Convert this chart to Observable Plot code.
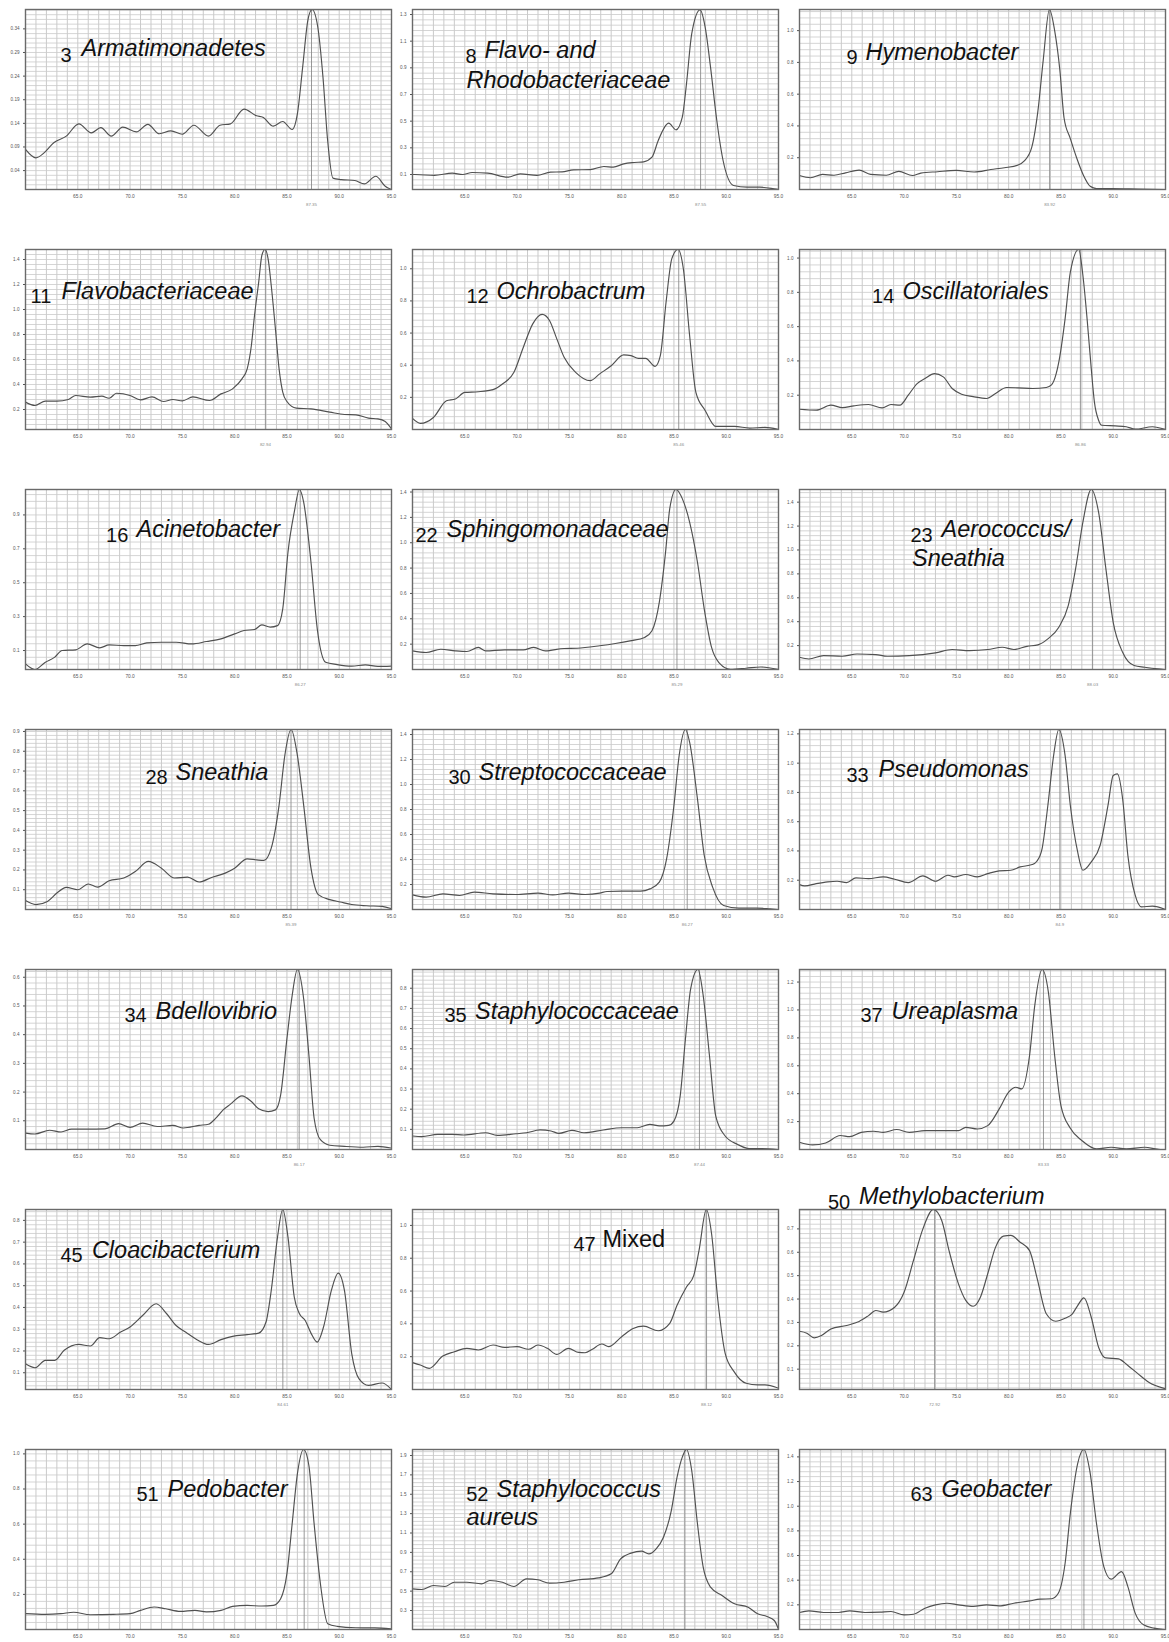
<!DOCTYPE html>
<html><head><meta charset="utf-8">
<script src="https://cdn.jsdelivr.net/npm/d3@7"></script>
<script src="https://cdn.jsdelivr.net/npm/@observablehq/plot@0.6"></script>
<style>
body{margin:0;background:#fff;}
#wrap{position:relative;width:1169px;height:1642px;overflow:hidden;background:#fff;font-family:"Liberation Sans",Arial,Helvetica,sans-serif;}
.cell{position:absolute;}
.cell svg{max-width:none;overflow:visible;}
</style></head><body><div id="wrap"></div>
<script>
// ---------- DATA ----------
const panelIds = [3, 8, 9, 11, 12, 14, 16, 22, 23, 28, 30, 33, 34, 35, 37, 45, 47, 50, 51, 52, 63];
const taxa = [
  ["Armatimonadetes"], ["Flavo- and", "Rhodobacteriaceae"], ["Hymenobacter"],
  ["Flavobacteriaceae"], ["Ochrobactrum"], ["Oscillatoriales"],
  ["Acinetobacter"], ["Sphingomonadaceae"], ["Aerococcus/", "Sneathia"],
  ["Sneathia"], ["Streptococcaceae"], ["Pseudomonas"],
  ["Bdellovibrio"], ["Staphylococcaceae"], ["Ureaplasma"],
  ["Cloacibacterium"], ["Mixed"], ["Methylobacterium"],
  ["Pedobacter"], ["Staphylococcus", "aureus"], ["Geobacter"]
];
const italicName = [1,1,1,1,1,1,1,1,1,1,1,1,1,1,1,1,0,1,1,1,1];
const peakTemps = [87.35, 87.55, 83.92, 82.94, 85.46, 86.86, 86.27, 85.29, 88.03, 85.39, 86.27, 84.9, 86.17, 87.44, 83.33, 84.61, 88.12, 72.92, 86.65, 86.05, 87.2];
const peakLabels = ["87.35", "87.55", "83.92", "82.94", "85.46", "86.86", "86.27", "85.29", "88.03", "85.39", "86.27", "84.9", "86.17", "87.44", "83.33", "84.61", "88.12", "72.92", null, null, null];
const xTicks = [65, 70, 75, 80, 85, 90, 95];
const yTicks = [
  [0.04,0.09,0.14,0.19,0.24,0.29,0.34],
  [0.1,0.3,0.5,0.7,0.9,1.1,1.3],
  [0.2,0.4,0.6,0.8,1.0],
  [0.2,0.4,0.6,0.8,1.0,1.2,1.4],
  [0.2,0.4,0.6,0.8,1.0],
  [0.2,0.4,0.6,0.8,1.0],
  [0.1,0.3,0.5,0.7,0.9],
  [0.2,0.4,0.6,0.8,1.0,1.2,1.4],
  [0.2,0.4,0.6,0.8,1.0,1.2,1.4],
  [0.1,0.2,0.3,0.4,0.5,0.6,0.7,0.8,0.9],
  [0.2,0.4,0.6,0.8,1.0,1.2,1.4],
  [0.2,0.4,0.6,0.8,1.0,1.2],
  [0.1,0.2,0.3,0.4,0.5,0.6],
  [0.1,0.2,0.3,0.4,0.5,0.6,0.7,0.8],
  [0.2,0.4,0.6,0.8,1.0,1.2],
  [0.1,0.2,0.3,0.4,0.5,0.6,0.7,0.8],
  [0.2,0.4,0.6,0.8,1.0],
  [0.1,0.2,0.3,0.4,0.5,0.6,0.7],
  [0.2,0.4,0.6,0.8,1.0],
  [0.3,0.5,0.7,0.9,1.1,1.3,1.5,1.7,1.9],
  [0.2,0.4,0.6,0.8,1.0,1.2,1.4]
];
const yDomains = [
  [0, 0.381], [-0.0125, 1.3375], [0, 1.133], [0.04, 1.48], [0, 1.12], [0, 1.05], [-0.012, 1.05],
  [0, 1.42], [0, 1.506], [0, 0.91], [0, 1.44], [0, 1.23], [0, 0.627], [0, 0.893], [0, 1.29],
  [0.023, 0.85], [0, 1.097], [0.013, 0.783], [0, 1.025], [0.104, 1.962], [0, 1.46]
];

const p3 = [[60,0.085],[61,0.067],[61.8,0.078],[62.7,0.099],[63.9,0.113],[65.1,0.139],[66.3,0.12],[67.2,0.131],[68.2,0.113],[69.3,0.132],[70.6,0.122],[71.7,0.138],[72.8,0.118],[73.9,0.124],[75,0.117],[76.1,0.136],[77.5,0.113],[78.6,0.136],[79.6,0.139],[80.9,0.17],[82.1,0.156],[82.7,0.153],[83.7,0.134],[84.6,0.144],[85.5,0.127],[86.0,0.16],[86.5,0.258],[87.0,0.358],[87.4,0.381],[87.95,0.344],[88.45,0.237],[88.9,0.102],[89.4,0.024],[90.2,0.021],[91.5,0.019],[92.4,0.012],[93.5,0.028],[94.4,0.007],[95,0.0]];
const p8 = [[60,0.1],[60.2,0.1],[62.1,0.093],[63.8,0.11],[64.8,0.1],[65.7,0.115],[67.2,0.11],[69.1,0.08],[70.3,0.105],[71.9,0.093],[73.2,0.118],[74.3,0.12],[75.4,0.135],[77.0,0.137],[78.3,0.16],[79.2,0.155],[80.2,0.18],[81.2,0.19],[82.1,0.195],[82.9,0.23],[83.5,0.355],[84.5,0.485],[85.2,0.435],[85.8,0.53],[86.2,0.78],[86.7,1.155],[87.5,1.335],[88.0,1.2],[88.5,0.905],[89.1,0.505],[89.7,0.205],[90.7,0.018],[92.0,0.005],[93.2,0.005],[94.8,-0.01],[95,-0.012]];
const p9 = [[60,0.088],[61.06,0.074],[62.2,0.095],[63.3,0.09],[64.4,0.105],[65.7,0.122],[66.8,0.095],[68.3,0.09],[69.5,0.114],[70.8,0.088],[71.6,0.103],[73.2,0.112],[75.0,0.12],[76.7,0.11],[78.3,0.126],[79.6,0.137],[80.9,0.154],[81.5,0.18],[82.2,0.263],[82.8,0.495],[83.3,0.81],[83.9,1.133],[84.4,1.0],[84.9,0.75],[85.3,0.45],[85.9,0.32],[86.5,0.2],[87.15,0.09],[87.8,0.02],[88.4,0.006],[89.9,0.006],[92.4,0.003],[95,0.0]];
const p11 = [[60,0.259],[60.9,0.232],[61.9,0.267],[63,0.267],[64.1,0.28],[64.8,0.312],[66.2,0.299],[67.3,0.307],[68.0,0.29],[68.7,0.33],[70.0,0.312],[71.0,0.277],[72.1,0.301],[73.2,0.264],[74.1,0.28],[75.0,0.269],[76.0,0.301],[77.6,0.272],[78.7,0.325],[79.8,0.365],[80.7,0.445],[81.2,0.525],[81.6,0.712],[81.9,0.952],[82.3,1.219],[82.6,1.432],[82.9,1.48],[83.2,1.405],[83.5,1.192],[83.9,0.845],[84.25,0.525],[84.6,0.339],[85.0,0.264],[85.9,0.211],[87.3,0.205],[89.1,0.179],[90.5,0.16],[91.6,0.157],[92.8,0.131],[93.7,0.125],[94.4,0.104],[95,0.045]];
const p12 = [[60,0.069],[60.75,0.038],[62,0.075],[63.25,0.179],[64.1,0.19],[65.0,0.231],[66.3,0.235],[67.7,0.248],[68.6,0.283],[69.7,0.356],[70.6,0.512],[71.5,0.657],[72.4,0.716],[73.1,0.678],[73.8,0.564],[74.5,0.449],[75.6,0.356],[77.0,0.304],[77.9,0.346],[79.0,0.397],[80.2,0.464],[80.9,0.46],[81.6,0.443],[82.3,0.443],[83.2,0.393],[83.7,0.46],[84.25,0.793],[84.8,1.063],[85.4,1.12],[85.9,1.0],[86.5,0.585],[87.1,0.231],[88.0,0.117],[89.0,0.019],[90.8,0.019],[92.25,0.009],[93.7,0.013],[95,0.0]];
const p14 = [[60,0.118],[61.6,0.113],[63.0,0.142],[64.1,0.128],[65.2,0.138],[66.6,0.146],[67.9,0.126],[68.75,0.146],[69.6,0.142],[70.4,0.2],[71.25,0.268],[72.0,0.297],[72.9,0.326],[73.75,0.307],[74.6,0.239],[75.5,0.206],[76.6,0.192],[77.9,0.181],[78.75,0.21],[79.8,0.245],[80.9,0.243],[82.3,0.239],[83.6,0.245],[84.1,0.26],[84.8,0.394],[85.4,0.647],[85.9,0.918],[86.7,1.05],[87.1,0.9],[87.5,0.647],[87.9,0.355],[88.2,0.161],[88.6,0.054],[88.9,0.025],[90.2,0.021],[91.25,0.016],[92.1,0.002],[93.75,0.016],[95,0.0]];
const p16 = [[60,0.021],[60.9,-0.012],[61.9,0.031],[62.8,0.061],[63.5,0.1],[64.8,0.104],[65.9,0.139],[67.1,0.116],[68.0,0.133],[69.4,0.129],[70.5,0.129],[71.6,0.145],[73.0,0.149],[74.4,0.149],[75.9,0.139],[77.3,0.153],[78.7,0.169],[80.0,0.198],[80.9,0.218],[81.9,0.224],[82.6,0.251],[83.4,0.238],[84.1,0.247],[84.6,0.346],[85.1,0.68],[85.7,0.916],[86.2,1.05],[86.6,0.975],[87.3,0.621],[87.9,0.228],[88.7,0.031],[89.8,0.017],[91.2,0.008],[92.5,0.015],[93.7,0.006],[95,0.008]];
const p22 = [[60,0.147],[61.3,0.134],[62.7,0.16],[64.1,0.147],[65.2,0.142],[66.3,0.174],[67.0,0.147],[68.8,0.155],[70.6,0.155],[71.6,0.174],[72.7,0.147],[74.5,0.166],[75.75,0.168],[77.9,0.187],[79.4,0.205],[80.8,0.226],[82.2,0.253],[82.9,0.306],[83.6,0.53],[84.2,0.926],[84.6,1.269],[85.2,1.42],[85.8,1.348],[86.5,1.163],[87.25,0.846],[87.9,0.477],[88.6,0.174],[89.3,0.055],[90.4,0.002],[91.9,0.01],[93.3,0.02],[95,0.0]];
const p23 = [[60,0.102],[60.9,0.088],[62.3,0.116],[64.1,0.111],[65.5,0.13],[67.3,0.125],[68.4,0.111],[70.5,0.116],[73.0,0.139],[74.6,0.167],[76.25,0.158],[78.0,0.167],[79.4,0.186],[80.5,0.167],[81.75,0.194],[82.8,0.206],[83.75,0.256],[84.8,0.354],[85.7,0.535],[86.4,0.842],[87.1,1.233],[87.9,1.506],[88.6,1.316],[89.3,0.842],[90.0,0.395],[90.9,0.144],[92.0,0.033],[93.0,0.019],[94.3,0.005],[95,0.0]];
const p28 = [[60,0.045],[61.0,0.025],[62.1,0.041],[63.0,0.083],[63.9,0.112],[65.0,0.1],[66.0,0.129],[66.9,0.113],[68.0,0.145],[69.4,0.159],[70.5,0.192],[71.75,0.243],[73.0,0.209],[74.25,0.159],[75.5,0.164],[76.6,0.139],[77.8,0.162],[79.1,0.184],[80.0,0.209],[81.2,0.256],[82.1,0.251],[82.8,0.248],[83.5,0.31],[84.25,0.528],[84.8,0.779],[85.4,0.91],[86.0,0.779],[86.6,0.528],[87.3,0.209],[88.0,0.075],[89.1,0.05],[90.1,0.038],[91.2,0.025],[92.6,0.019],[94.1,0.016],[95,0.004]];
const p30 = [[60,0.117],[61.3,0.099],[62.9,0.125],[64.5,0.112],[65.9,0.139],[67.7,0.125],[69.9,0.12],[72.0,0.131],[73.4,0.117],[74.9,0.131],[76.5,0.12],[77.9,0.131],[78.6,0.144],[80.0,0.147],[81.8,0.147],[82.7,0.165],[83.6,0.219],[84.3,0.405],[85.0,0.832],[85.5,1.232],[86.1,1.44],[86.5,1.339],[87.25,0.885],[87.9,0.432],[88.7,0.179],[89.75,0.032],[91.2,0.011],[92.9,0.011],[94.2,0.005],[95,0.0]];
const p33 = [[60,0.17],[60.5,0.161],[61.6,0.177],[62.7,0.189],[63.6,0.193],[64.5,0.184],[65.4,0.216],[66.6,0.211],[68.0,0.223],[69.1,0.207],[70.4,0.184],[71.8,0.23],[73.0,0.193],[74.2,0.234],[74.8,0.223],[75.9,0.239],[77.0,0.223],[78.0,0.245],[79.1,0.264],[80.2,0.268],[81.1,0.291],[82.25,0.307],[82.7,0.33],[83.2,0.416],[83.75,0.711],[84.3,1.052],[84.8,1.23],[85.4,1.052],[85.9,0.711],[86.6,0.393],[87.1,0.268],[87.9,0.325],[88.75,0.439],[89.5,0.711],[90.0,0.916],[90.4,0.927],[90.9,0.757],[91.4,0.37],[92.1,0.098],[92.7,0.018],[93.75,0.023],[95,0.0]];
const p34 = [[60,0.057],[60.9,0.054],[62.3,0.067],[63.4,0.061],[64.4,0.071],[65.9,0.071],[67.6,0.072],[68.9,0.09],[70.0,0.077],[71.2,0.092],[72.6,0.08],[74.1,0.084],[75.1,0.075],[76.6,0.084],[77.5,0.088],[78.2,0.109],[78.9,0.138],[79.6,0.158],[80.7,0.187],[81.6,0.167],[82.3,0.142],[83.2,0.132],[83.9,0.138],[84.4,0.19],[85.0,0.386],[85.5,0.536],[86.0,0.627],[86.6,0.525],[87.1,0.329],[87.6,0.109],[88.2,0.034],[89.1,0.015],[90.5,0.011],[92.3,0.008],[93.7,0.011],[95,0.005]];
const p35 = [[60,0.067],[60.9,0.064],[62.4,0.075],[63.8,0.075],[64.9,0.072],[67.0,0.083],[68.1,0.07],[69.9,0.078],[70.9,0.083],[72.2,0.097],[73.25,0.092],[74.0,0.08],[75.25,0.095],[76.4,0.083],[78.25,0.097],[80.0,0.108],[81.5,0.108],[82.7,0.125],[83.6,0.117],[84.5,0.12],[85.0,0.141],[85.6,0.266],[86.1,0.548],[86.6,0.797],[87.3,0.893],[87.8,0.763],[88.4,0.465],[89.0,0.166],[89.9,0.067],[91.1,0.025],[92.2,0.004],[93.3,0.005],[95,0.0]];
const p37 = [[60,0.052],[61.25,0.033],[62.5,0.047],[63.9,0.1],[64.8,0.092],[65.9,0.123],[67.1,0.131],[68.0,0.123],[69.3,0.143],[70.5,0.123],[72.0,0.135],[73.75,0.135],[75.2,0.135],[75.9,0.159],[77.0,0.147],[78.0,0.171],[79.1,0.291],[80.0,0.411],[80.7,0.446],[81.25,0.434],[82.0,0.674],[82.5,1.033],[83.2,1.29],[83.8,1.128],[84.4,0.674],[85.0,0.315],[85.9,0.152],[87.0,0.064],[88.4,0.004],[89.8,0.016],[91.25,0.004],[93.0,0.016],[94.5,0.0],[95,0.0]];
const p45 = [[60,0.141],[60.9,0.123],[61.9,0.157],[62.8,0.157],[63.7,0.203],[65.1,0.23],[66.2,0.223],[67.1,0.261],[68.0,0.256],[69.1,0.287],[70.0,0.31],[71.2,0.363],[72.5,0.417],[73.5,0.371],[74.4,0.317],[75.3,0.287],[76.4,0.252],[77.5,0.23],[78.7,0.252],[79.8,0.267],[81.2,0.275],[82.3,0.282],[83.0,0.333],[83.5,0.478],[84.1,0.723],[84.6,0.85],[85.1,0.723],[85.7,0.448],[86.2,0.371],[86.75,0.34],[87.3,0.282],[87.9,0.241],[88.5,0.31],[89.25,0.478],[89.9,0.558],[90.5,0.478],[91.2,0.187],[91.9,0.072],[92.8,0.042],[94.1,0.053],[95,0.023]];
const p47 = [[60,0.164],[60.75,0.149],[61.6,0.129],[62.9,0.204],[64.0,0.23],[65.2,0.251],[66.3,0.241],[67.7,0.271],[68.8,0.257],[70.0,0.261],[71.1,0.245],[72.0,0.271],[72.9,0.251],[73.8,0.214],[74.9,0.251],[75.9,0.226],[76.5,0.224],[77.2,0.245],[78.1,0.277],[78.75,0.261],[80.0,0.322],[81.1,0.372],[82.1,0.386],[83.5,0.358],[84.6,0.403],[85.3,0.514],[86.2,0.625],[86.9,0.696],[87.4,0.848],[88.1,1.097],[88.6,0.949],[89.2,0.544],[89.9,0.22],[90.75,0.109],[91.9,0.038],[93.0,0.028],[93.7,0.028],[95,0.008]];
const p50 = [[60,0.262],[60.7,0.254],[61.4,0.234],[62.1,0.244],[63.0,0.272],[64.5,0.287],[65.7,0.304],[66.6,0.329],[67.3,0.351],[68.0,0.344],[69.1,0.365],[70.0,0.429],[70.9,0.565],[71.8,0.7],[72.8,0.783],[73.6,0.736],[74.3,0.607],[75.2,0.465],[75.9,0.394],[76.6,0.369],[77.3,0.408],[78.0,0.508],[78.75,0.622],[79.5,0.669],[80.2,0.672],[81.1,0.643],[82.0,0.607],[82.7,0.493],[83.6,0.337],[84.5,0.305],[85.4,0.318],[86.1,0.337],[86.6,0.372],[87.2,0.405],[87.9,0.322],[88.6,0.194],[89.3,0.148],[90.5,0.144],[91.4,0.116],[92.3,0.083],[93.4,0.044],[95,0.016]];
const p51 = [[60,0.09],[61.9,0.086],[63.4,0.09],[64.6,0.098],[66.2,0.084],[68.4,0.086],[70.0,0.09],[71.0,0.109],[72.3,0.128],[73.4,0.118],[74.8,0.103],[76.2,0.109],[77.3,0.1],[78.7,0.109],[79.8,0.132],[81.2,0.137],[82.6,0.134],[83.7,0.137],[84.4,0.175],[85.0,0.318],[85.5,0.602],[86.0,0.886],[86.6,1.025],[87.1,0.934],[87.6,0.602],[88.2,0.261],[88.9,0.033],[89.8,0.018],[91.6,0.01],[93.4,0.009],[95,0.003]];
const p52 = [[60,0.524],[60.9,0.517],[62.0,0.558],[63.1,0.548],[64.0,0.592],[65.2,0.592],[66.6,0.575],[67.4,0.61],[68.6,0.592],[69.7,0.548],[70.9,0.627],[72.0,0.617],[73.1,0.582],[74.5,0.592],[75.9,0.617],[77.8,0.637],[79.0,0.679],[79.9,0.833],[80.9,0.892],[81.9,0.913],[82.6,0.885],[83.3,0.937],[84.0,1.057],[84.75,1.332],[85.3,1.676],[85.8,1.883],[86.2,1.962],[86.7,1.745],[87.25,1.195],[87.8,0.747],[88.5,0.541],[89.6,0.455],[90.8,0.369],[92.1,0.334],[93.0,0.266],[93.9,0.238],[94.6,0.197],[95,0.107]];
const p63 = [[60,0.138],[60.9,0.151],[62.3,0.138],[63.75,0.138],[64.8,0.151],[66.25,0.138],[67.7,0.141],[68.75,0.146],[70.0,0.119],[70.9,0.124],[72.0,0.173],[73.0,0.2],[74.1,0.213],[75.2,0.2],[76.6,0.187],[77.9,0.2],[79.1,0.192],[80.5,0.213],[82.0,0.232],[83.0,0.246],[84.1,0.249],[84.75,0.294],[85.4,0.537],[85.9,0.942],[86.6,1.346],[87.2,1.46],[87.75,1.292],[88.4,0.861],[89.1,0.51],[89.8,0.408],[90.8,0.47],[91.4,0.348],[92.1,0.133],[92.9,0.038],[93.9,0.011],[95,0.0]];
const curves = [p3,p8,p9,p11,p12,p14,p16,p22,p23,p28,p30,p33,p34,p35,p37,p45,p47,p50,p51,p52,p63];

// ---------- LAYOUT (pixels relative to each frame's top-left) ----------
// [numDx, numDy, nameDx, nameDy, line2Dx, line2Dy]
const labelLayout = [
  [35,52.7,56,46], [53,53,72,48,54,78], [47,54,66,50],
  [5,53.7,36,49], [54,53.7,84,49], [72.6,53.7,103,49],
  [80.6,52,111,47.7], [3,52,34,47.7], [111,52,142,47.7,112.5,76],
  [120,54,150,50], [36,54,66,50], [47,52.7,79,47.7],
  [99,52.7,130,49], [32,52.7,62.6,49], [61,52.7,92,49],
  [35,52.7,66.4,48.7], [161,41,190,37], [28.5,-1,59.5,-5.7],
  [111,51,142,47], [53.7,51,84,47,54,75], [111,51,142,47]
];
const colLeft = [25, 412, 799];
const FW = 366, FH = 180;
const ML = 26, MR = 4, MT = 4, MB = 24;
const FONT = '"Liberation Sans", Arial, Helvetica, sans-serif';
const vGrid = d3.range(61, 95);

const wrap = document.getElementById("wrap");

panelIds.forEach((id, i) => {
  const c = i % 3, r = Math.floor(i / 3);
  const ticks = yTicks[i];
  const step = +(ticks[1] - ticks[0]).toFixed(4);
  const minor = step / 5;
  const [y0, y1] = yDomains[i];
  const grid = [];
  let k = Math.ceil((y0 - ticks[0]) / minor - 1e-6);
  for (; ticks[0] + k * minor <= y1 + 1e-9; k++) grid.push(+(ticks[0] + k * minor).toFixed(4));
  const fmt = id === 3 ? d3.format(".2f") : d3.format(".1f");
  const L = labelLayout[i];
  const names = taxa[i];
  const marks = [
    Plot.ruleX(vGrid, {stroke: "#bdbdbd", strokeWidth: 0.8}),
    Plot.ruleY(grid, {stroke: "#cacaca", strokeWidth: 0.8}),
    Plot.ruleX([peakTemps[i]], {stroke: "#8c8c8c", strokeWidth: 0.9}),
    Plot.line(curves[i], {x: d => d[0], y: d => d[1], curve: "monotone-x", stroke: "#505050", strokeWidth: 1.15, clip: true}),
    Plot.frame({stroke: "#6a6a6a", strokeWidth: 1.4}),
    Plot.axisY(ticks, {tickSize: 2, tickPadding: 4, fontSize: 4.6, tickFormat: fmt, color: "#555", label: null}),
    Plot.axisX(xTicks, {tickSize: 0, tickPadding: 5, fontSize: 4.8, tickFormat: d => d.toFixed(1), color: "#555", label: null}),
    Plot.text([String(id)], {text: d => d, frameAnchor: "top-left", dx: L[0], dy: L[1], lineAnchor: "bottom", textAnchor: "start", fontSize: 20, fill: "#111", fontFamily: FONT}),
    Plot.text([names[0]], {text: d => d, frameAnchor: "top-left", dx: L[2], dy: L[3], lineAnchor: "bottom", textAnchor: "start", fontSize: 23.5, fontStyle: italicName[i] ? "italic" : "normal", fill: "#111", fontFamily: FONT})
  ];
  if (names.length > 1) {
    marks.push(Plot.text([names[1]], {text: d => d, frameAnchor: "top-left", dx: L[4], dy: L[5], lineAnchor: "bottom", textAnchor: "start", fontSize: 23.5, fontStyle: "italic", fill: "#111", fontFamily: FONT}));
  }
  if (peakLabels[i]) {
    marks.push(Plot.text([{t: peakTemps[i], s: peakLabels[i]}], {x: "t", text: "s", frameAnchor: "bottom", dy: 16, fontSize: 4.4, fill: "#8a8a8a"}));
  }
  const chart = Plot.plot({
    width: FW + ML + MR, height: FH + MT + MB,
    marginLeft: ML, marginRight: MR, marginTop: MT, marginBottom: MB,
    style: {background: "transparent", overflow: "visible", fontFamily: FONT},
    x: {domain: [60, 95], label: null},
    y: {domain: yDomains[i], label: null},
    marks
  });
  const cell = document.createElement("div");
  cell.className = "cell";
  cell.style.left = (colLeft[c] - ML) + "px";
  cell.style.top = (9 + 240 * r - MT) + "px";
  cell.style.width = (FW + ML + MR) + "px";
  cell.appendChild(chart);
  wrap.appendChild(cell);
});
</script></body></html>
